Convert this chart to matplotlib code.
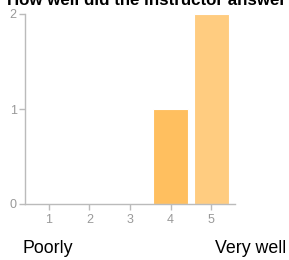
import matplotlib.pyplot as plt

# responses on a 1-5 scale
ratings = [1, 2, 3, 4, 5]
counts = [0, 0, 0, 1, 2]
bar_colors = ["#ffbf5f", "#ffbf5f", "#ffbf5f", "#ffbf5f", "#ffcc80"]
title = "How well did the instructor answer your questions?"
low_label = "Poorly"
high_label = "Very well"

plt.rcParams["font.family"] = ["Liberation Sans", "DejaVu Sans"]

fig = plt.figure(figsize=(2.89, 2.60), dpi=100, facecolor="white")
ax = fig.add_axes([25 / 289, 1 - 204 / 260, 210 / 289, 190 / 260])

ax.bar(ratings, counts, width=0.86, color=bar_colors, edgecolor="white", linewidth=0.8)

ax.set_xlim(0.41, 5.59)
ax.set_ylim(0, 2)
ax.set_xticks(ratings)
ax.set_yticks([0, 1, 2])

grey = "#999999"
for side in ["top", "right"]:
    ax.spines[side].set_visible(False)
for side in ["left", "bottom"]:
    ax.spines[side].set_color("#bbbbbb")
    ax.spines[side].set_linewidth(1.0)
ax.tick_params(colors="#bbbbbb", labelcolor=grey, labelsize=9, length=4, width=1, pad=2)
ax.tick_params(axis="x", pad=3)

fig.text(7 / 289, 1 - 5 / 260, title, fontsize=12.2, fontweight="bold", va="baseline", ha="left")
fig.text(23 / 289, 1 - 253 / 260, low_label, fontsize=12.8, va="baseline", ha="left")
fig.text(215 / 289, 1 - 253 / 260, high_label, fontsize=12.8, va="baseline", ha="left")

fig.savefig("out.png", dpi=100, facecolor="white")
